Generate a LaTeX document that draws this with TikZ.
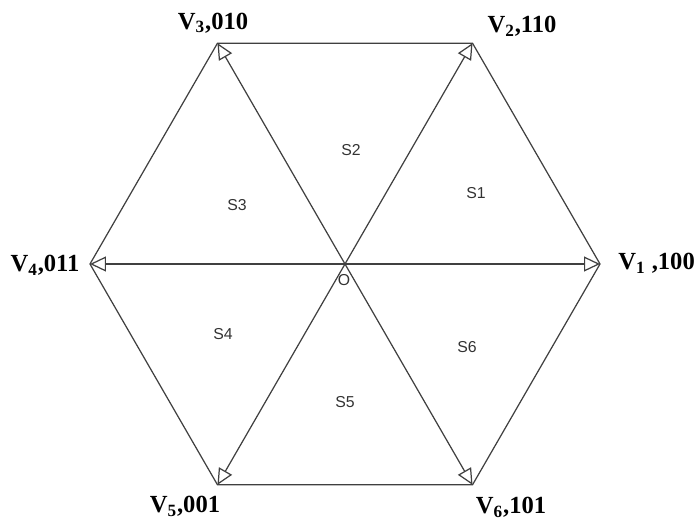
\documentclass[tikz,border=0pt]{standalone}
\usepackage{fontspec}
\setmainfont{Liberation Serif}
\newfontfamily\slabelfont{Liberation Sans}
\usetikzlibrary{arrows.meta}
\tikzset{
    vec/.style={draw=black!75, line width=0.7pt,
                -{Triangle[open,length=0.32cm,width=0.3cm]}},
    hexedge/.style={draw=black!75, line width=0.7pt},
    vlabel/.style={font=\fontsize{14}{16}\selectfont\bfseries, inner sep=0pt},
    slabel/.style={font=\slabelfont\fontsize{9}{10}\selectfont, text=black!80, inner sep=0pt}
}

\begin{document}
\begin{tikzpicture}[x=0.02cm,y=0.02cm]
    \useasboundingbox (-345,-258) rectangle (351,264);
    \coordinate (O) at (0,0);
    \foreach \i in {1,...,6}{
        \coordinate (V\i) at ({60*(\i-1)}:255);
    }
    % hexagon sides
    \draw[hexedge] (V1) -- (V2) -- (V3) -- (V4) -- (V5) -- (V6) -- cycle;
    % space vectors
    \foreach \i in {1,...,6}{
        \draw[vec] (O) -- (V\i);
    }
    \node[vlabel, anchor=west] (lVa) at (273,1) {V\textsubscript{1} ,100};
    \foreach \name/\x/\y/\txt in {
        lVb/177/238/{V\textsubscript{2},110}, lVc/-132/241/{V\textsubscript{3},010},
        lVd/-300/-1/{V\textsubscript{4},011}, lVe/-160/-242/{V\textsubscript{5},001},
        lVf/166/-243/{V\textsubscript{6},101}}{
        \node[vlabel] (\name) at (\x,\y) {\txt};
    }
    \foreach \name/\x/\y/\txt in {
        sa/131/71/S1, sb/6/114/S2, sc/-108/59/S3,
        sd/-122/-70/S4, se/0/-138/S5, sf/122/-83/S6, lO/-1/-16/O}{
        \node[slabel] (\name) at (\x,\y) {\txt};
    }
\end{tikzpicture}
\end{document}
